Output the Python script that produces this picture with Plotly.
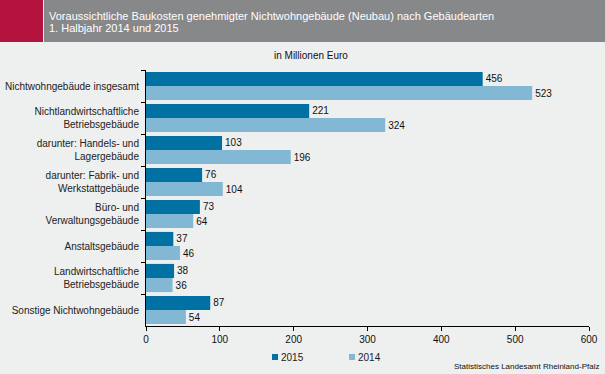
import plotly.graph_objects as go

categories = [
    "Nichtwohngebäude insgesamt",
    "Nichtlandwirtschaftliche<br>Betriebsgebäude",
    "darunter: Handels- und<br>Lagergebäude",
    "darunter: Fabrik- und<br>Werkstattgebäude",
    "Büro- und<br>Verwaltungsgebäude",
    "Anstaltsgebäude",
    "Landwirtschaftliche<br>Betriebsgebäude",
    "Sonstige Nichtwohngebäude",
]
values_2015 = [456, 221, 103, 76, 73, 37, 38, 87]
values_2014 = [523, 324, 196, 104, 64, 46, 36, 54]
series_names = ["2015", "2014"]
series_colors = ["#0071a2", "#82b8d4"]
x_ticks = [0, 100, 200, 300, 400, 500, 600]

W, H = 605, 374
ML, MR, MT, MB = 146, 16, 70, 48
PW, PH = W - ML - MR, H - MT - MB

def px(x):
    return (x - ML) / PW

def py(y):
    return 1 + (MT - y) / PH

font = "Liberation Sans, Arial, sans-serif"

fig = go.Figure()
for name, vals, col in zip(series_names, [values_2015, values_2014], series_colors):
    fig.add_trace(go.Bar(
        y=categories, x=vals, name=name, orientation="h",
        marker=dict(color=col, line=dict(width=0)),
        text=vals, textposition="outside", cliponaxis=False,
        textfont=dict(size=10, color="#111111", family=font),
        showlegend=False,
    ))

# manual legend (squares + labels) so it does not push the margins
legend_x = [275, 352]
shapes = [
    dict(type="rect", xref="paper", yref="paper", x0=px(0), x1=px(43), y0=py(42), y1=py(0),
         fillcolor="#b5133f", line=dict(width=0), layer="below"),
    dict(type="rect", xref="paper", yref="paper", x0=px(44), x1=px(605), y0=py(42), y1=py(0),
         fillcolor="#87888a", line=dict(width=0), layer="below"),
]
annotations = [
    dict(text="Voraussichtliche Baukosten genehmigter Nichtwohngebäude (Neubau) nach Gebäudearten",
         xref="paper", yref="paper", x=px(47), y=py(15.5), xanchor="left", yanchor="middle",
         showarrow=False, font=dict(size=11, color="#ffffff")),
    dict(text="1. Halbjahr 2014 und 2015",
         xref="paper", yref="paper", x=px(47), y=py(27.5), xanchor="left", yanchor="middle",
         showarrow=False, font=dict(size=11, color="#ffffff")),
    dict(text="in Millionen Euro", xref="paper", yref="paper", x=px(311), y=py(55),
         xanchor="center", yanchor="middle", showarrow=False,
         font=dict(size=10, color="#111111")),
    dict(text="Statistisches Landesamt Rheinland-Pfalz", xref="paper", yref="paper",
         x=px(601), y=py(366), xanchor="right", yanchor="middle", showarrow=False,
         font=dict(size=8, color="#111111")),
]
for lx, name, col in zip(legend_x, series_names, series_colors):
    shapes.append(dict(type="rect", xref="paper", yref="paper",
                       x0=px(lx - 3), x1=px(lx + 3), y0=py(360), y1=py(354),
                       fillcolor=col, line=dict(width=0)))
    annotations.append(dict(text=name, xref="paper", yref="paper", x=px(lx + 4), y=py(357),
                            xanchor="left", yanchor="middle", showarrow=False,
                            font=dict(size=10, color="#222222")))

fig.update_layout(
    width=W, height=H,
    margin=dict(l=ML, r=MR, t=MT, b=MB, autoexpand=False),
    paper_bgcolor="#eeefef", plot_bgcolor="#eeefef",
    barmode="group", bargap=0.12, bargroupgap=0,
    font=dict(family=font, size=10, color="#222222"),
    showlegend=False,
    xaxis=dict(range=[0, 600], tickvals=x_ticks, showgrid=False, zeroline=False,
               showline=True, linecolor="#000000", linewidth=1,
               ticks="outside", ticklen=4, tickcolor="#000000",
               tickfont=dict(size=10, color="#111111"), automargin=False),
    yaxis=dict(autorange="reversed", showgrid=False, showline=True,
               linecolor="#000000", linewidth=1, ticks="outside", ticklen=4,
               tickcolor="#000000", tickson="boundaries", automargin=False,
               tickfont=dict(size=10, color="#222222"), ticklabelstandoff=4),
    shapes=shapes,
    annotations=annotations,
)

fig.write_html("out.html",
               config={"displayModeBar": False},
               post_script="document.body.style.margin='0';document.body.style.padding='0';"
                           "document.body.style.overflow='hidden';")
